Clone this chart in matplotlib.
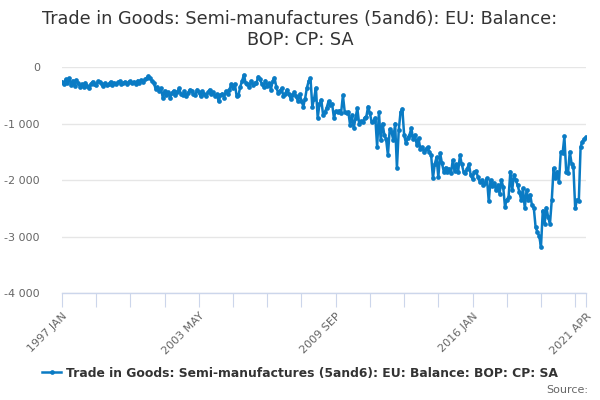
import matplotlib
matplotlib.use("Agg")
import matplotlib.pyplot as plt
import numpy as np
from matplotlib.lines import Line2D

title = "Trade in Goods: Semi-manufactures (5and6): EU: Balance:\nBOP: CP: SA"
series_name = "Trade in Goods: Semi-manufactures (5and6): EU: Balance: BOP: CP: SA"
month_names = ["JAN", "FEB", "MAR", "APR", "MAY", "JUN", "JUL", "AUG", "SEP", "OCT", "NOV", "DEC"]
start_year = 1997
y_ticks = [0, -1000, -2000, -3000, -4000]

v1997 = [-260, -300, -220, -280, -200, -310, -240, -330, -230, -290, -350, -300]
v1998 = [-360, -280, -330, -380, -300, -260, -300, -320, -250, -270, -300, -330]
v1999 = [-280, -320, -300, -260, -310, -280, -300, -270, -250, -300, -290, -260]
v2000 = [-300, -270, -250, -290, -260, -300, -240, -280, -230, -260, -220, -200]
v2001 = [-160, -200, -250, -280, -390, -350, -420, -380, -550, -420, -500, -450]
v2002 = [-550, -460, -420, -500, -440, -380, -470, -500, -430, -520, -460, -400]
v2003 = [-420, -480, -500, -400, -450, -520, -430, -480, -510, -450, -400, -470]
v2004 = [-450, -520, -480, -610, -500, -470, -540, -430, -480, -400, -300, -380]
v2005 = [-300, -520, -500, -350, -250, -140, -280, -300, -350, -250, -320, -280]
v2006 = [-280, -170, -220, -300, -350, -240, -330, -290, -400, -250, -190, -350]
v2007 = [-460, -420, -380, -520, -470, -400, -480, -560, -500, -450, -520, -600]
v2008 = [-480, -600, -700, -560, -370, -250, -200, -700, -560, -370, -900, -650]
v2009 = [-580, -850, -800, -720, -610, -680, -650, -900, -780, -800, -770, -810]
v2010 = [-500, -790, -820, -790, -1030, -850, -1080, -900, -730, -1000, -960, -980]
v2011 = [-900, -880, -700, -820, -980, -950, -900, -1410, -800, -1300, -1000, -1200]
v2012 = [-1280, -1560, -1100, -1150, -1300, -1000, -1790, -1120, -800, -740, -1200, -1350]
v2013 = [-1250, -1200, -1080, -1280, -1200, -1380, -1260, -1450, -1420, -1500, -1460, -1420]
v2014 = [-1500, -1560, -1970, -1720, -1600, -1950, -1530, -1700, -1850, -1780, -1850, -1800]
v2015 = [-1880, -1650, -1840, -1720, -1850, -1560, -1720, -1850, -1880, -1800, -1720, -1920]
v2016 = [-1980, -1860, -1840, -1950, -2030, -2000, -2090, -2050, -1970, -2380, -2000, -2100]
v2017 = [-2050, -2180, -2090, -2240, -2000, -2120, -2470, -2350, -2300, -1850, -2180, -1910]
v2018 = [-2000, -2090, -2210, -2350, -2150, -2500, -2180, -2350, -2260, -2450, -2490, -2830]
v2019 = [-2920, -2990, -3180, -2540, -2770, -2490, -2660, -2770, -2350, -1790, -1960, -1850]
v2020 = [-2030, -1500, -1530, -1230, -1850, -1880, -1500, -1710, -1770, -2500, -2350, -2380]
v2021 = [-1410, -1320, -1270, -1240]

values = (v1997 + v1998 + v1999 + v2000 + v2001 + v2002 + v2003 + v2004 + v2005 +
          v2006 + v2007 + v2008 + v2009 + v2010 + v2011 + v2012 + v2013 + v2014 +
          v2015 + v2016 + v2017 + v2018 + v2019 + v2020 + v2021)

categories = [f"{start_year + k // 12} {month_names[k % 12]}" for k in range(len(values))]
n = len(values)
x = np.arange(n)

plt.rcParams['font.family'] = ['DejaVu Sans']
fig = plt.figure(figsize=(6, 4), dpi=100)
ax = fig.add_axes([62/600, 1 - 293/400, 524/600, 226/400])

line_color = '#0a7bc4'
ax.plot(x, values, color=line_color, lw=1.8, marker='o', ms=3.4, mew=0, zorder=3)

ax.set_xlim(0, n - 1)
ax.set_ylim(-4000, 0)
ax.set_yticks(y_ticks)
ax.set_yticklabels([f"{v:,}".replace(",", " ") for v in y_ticks])
ax.yaxis.grid(True, color='#e6e6e6', lw=1)
ax.set_axisbelow(True)

tick_pos = list(range(0, n, 19))
if tick_pos[-1] != n - 1:
    tick_pos.append(n - 1)
label_pos = [0, 76, 152, 228, n - 1]
ax.set_xticks(tick_pos)
ax.set_xticklabels([categories[p] if p in label_pos else "" for p in tick_pos],
                   rotation=45, ha='right', va='top', rotation_mode='anchor')

for s in ['top', 'right', 'left']:
    ax.spines[s].set_visible(False)
ax.spines['bottom'].set_color('#ccd6eb')
ax.spines['bottom'].set_linewidth(1)
ax.tick_params(axis='x', length=10, color='#ccd6eb', labelcolor='#666666', labelsize=8, pad=3)
ax.tick_params(axis='y', length=0, labelcolor='#666666', labelsize=8, pad=16)

fig.text(0.5, 0.975, title, ha='center', va='top', fontsize=12.7, color='#333333', linespacing=1.2)

handle = Line2D([0], [0], color=line_color, lw=1.8, marker='o', ms=3.4, mew=0)
leg = fig.legend([handle], [series_name], loc='center', bbox_to_anchor=(0.5, 1 - 373/400),
                 frameon=False, handlelength=1.5, handletextpad=0.4,
                 prop={'weight': 'bold', 'size': 8.9})
for t in leg.get_texts():
    t.set_color('#333333')

fig.text(588/600, 1 - 390/400, "Source:", ha='right', va='center', fontsize=8, color='#666666')

fig.savefig("out.png", dpi=100)
